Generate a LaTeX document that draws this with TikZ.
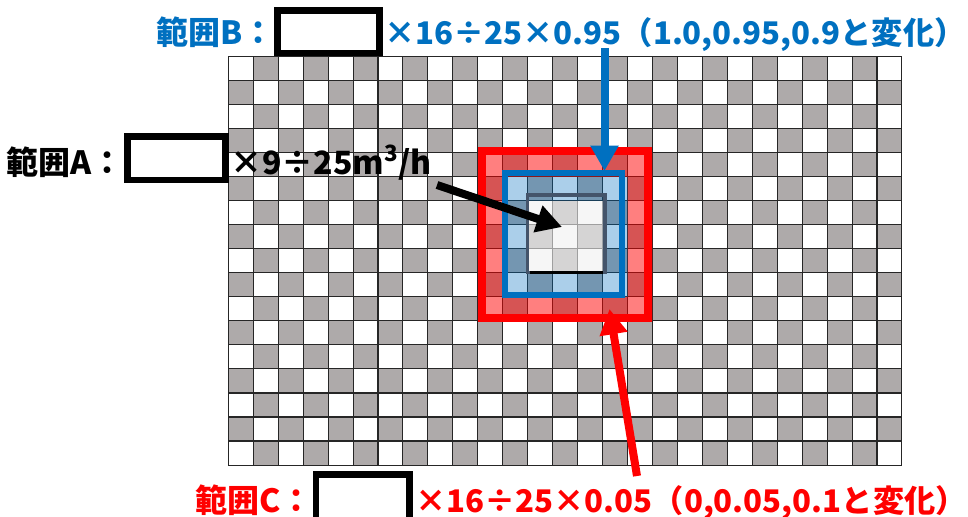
\documentclass[tikz,border=0pt]{standalone}
\usepackage{fontspec}
\newfontfamily\jp{Noto Sans CJK JP}
\usetikzlibrary{arrows.meta}
\definecolor{cellgray}{HTML}{AEAAAA}
\definecolor{pblue}{HTML}{0070C0}
\definecolor{pred}{HTML}{FF0000}
\definecolor{slate}{HTML}{44546A}
\begin{document}
\begin{tikzpicture}[x=0.75pt,y=-0.75pt,
  lbl/.style={inner sep=0pt,font=\jp\bfseries\fontsize{24pt}{27pt}\selectfont},
  lbls/.style={inner sep=0pt,font=\jp\bfseries\fontsize{23.4pt}{27pt}\selectfont},
  blank/.style={draw=black,line width=4.8pt,fill=white},
  gridline/.style={draw=black!85,line width=0.8pt},
  arr/.style={line width=6pt,-{Triangle[length=19pt,width=20pt]}}]
\useasboundingbox (0,0) rectangle (968,517);
\def\cw{24.95}\def\ch{24.02}\def\gx{228.3}\def\gy{56.7}
% checkerboard
\fill[white] (\gx,\gy) rectangle ++(27*\cw,17*\ch);
\foreach \i in {0,...,26}{\foreach \j in {0,...,16}{%
  \pgfmathtruncatemacro\odd{mod(\i+\j,2)}%
  \ifnum\odd=1 \fill[cellgray] (\gx+\i*\cw,\gy+\j*\ch) rectangle ++(\cw,\ch);\fi}}
\foreach \i in {0,...,27}{\draw[gridline] (\gx+\i*\cw,\gy) -- ++(0,17*\ch);}
\foreach \j in {0,...,17}{\draw[gridline] (\gx,\gy+\j*\ch) -- ++(27*\cw,0);}
% tinted rings
\fill[pred,opacity=0.5,even odd rule]
  (\gx+10*\cw,\gy+4*\ch) rectangle (\gx+17*\cw,\gy+11*\ch)
  (\gx+11*\cw,\gy+5*\ch) rectangle (\gx+16*\cw,\gy+10*\ch);
\fill[pblue,opacity=0.33,even odd rule]
  (\gx+11*\cw,\gy+5*\ch) rectangle (\gx+16*\cw,\gy+10*\ch)
  (\gx+12*\cw,\gy+6*\ch) rectangle (\gx+15*\cw,\gy+9*\ch);
\fill[white!94!black,opacity=0.6]
  (\gx+12*\cw,\gy+6*\ch) rectangle (\gx+15*\cw,\gy+9*\ch);
% outlines
\draw[pred,line width=6pt] (482,151) rectangle (647.5,317.5);
\draw[pblue,line width=4.8pt] (505,172.7) rectangle (622,295);
\draw[slate,line width=2.8pt] (527.5,195) rectangle (605,272.5);
\draw[black,line width=2.2pt] (530,272.5) -- (603,272.5);
% range A
\node[lbl,anchor=base east] (la) at (124,174) {範囲A：};
\draw[blank] (127.5,136.5) rectangle (225.5,180);
\node[lbl,anchor=base west] (ta) at (230,174) {×9÷25m\textsuperscript{3}/h};
% range B
\node[lbl,anchor=base east,text=pblue] (lb) at (275,45) {範囲B：};
\draw[blank] (277.5,10.5) rectangle (379.5,53);
\node[lbls,anchor=base west,text=pblue] (tb) at (384,45) {×16÷25×0.95（1.0,0.95,0.9と変化）};
% range C
\node[lbl,anchor=base east,text=pred] (lc) at (313,512) {範囲C：};
\draw[blank] (316,474.5) rectangle (409.5,540);
\node[lbls,anchor=base west,text=pred] (tc) at (415,512) {×16÷25×0.05（0,0.05,0.1と変化）};
% arrows
\coordinate (bs) at (604.5,48);
\coordinate (be) at (604.5,171);
\coordinate (rs) at (637,476);
\coordinate (re) at (609.5,309);
\coordinate (ks) at (437,185);
\coordinate (ke) at (562,227);
\draw[arr,pblue] (bs) -- (be);
\draw[arr,pred] (rs) -- (re);
\draw[arr,black] (ks) -- (ke);
\end{tikzpicture}
\end{document}
